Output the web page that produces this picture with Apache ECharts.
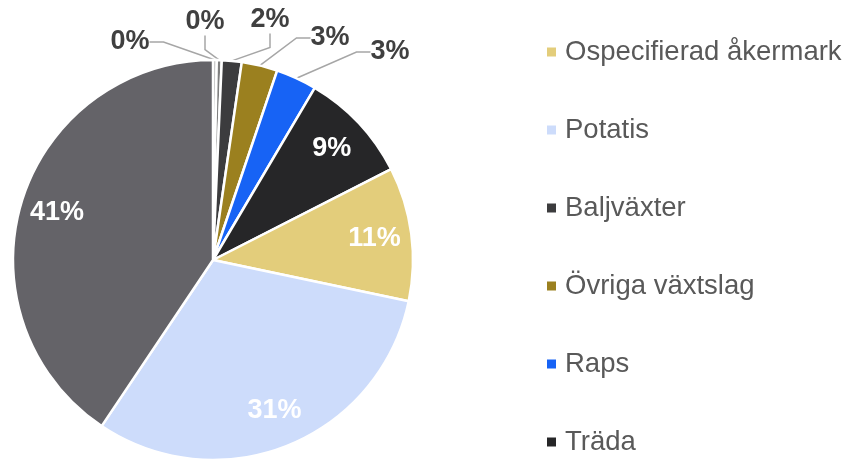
<!DOCTYPE html>
<html>
<head>
<meta charset="utf-8">
<script src="https://cdn.jsdelivr.net/npm/echarts@6/dist/echarts.min.js"></script>
<style>
  html, body { margin: 0; padding: 0; background: #fff; }
  #chart { width: 843px; height: 459px; }
</style>
</head>
<body>
<div id="chart"></div>
<script>
// andelar i procent, medurs från kl 12
var categories = ['Energigrödor', 'Sockerbetor', 'Baljväxter', 'Övriga växtslag', 'Raps', 'Träda', 'Ospecifierad åkermark', 'Potatis', 'Spannmål'];
var values = [0.3, 0.4, 1.6, 2.9, 3.3, 9.0, 10.8, 31.1, 40.6];
var colors = ['#a5a5a5', '#7f7f7f', '#3c3c3e', '#9b801f', '#1763f5', '#262628', '#e3cd7b', '#cddcfb', '#646368'];
var legendNames = ['Ospecifierad åkermark', 'Potatis', 'Baljväxter', 'Övriga växtslag', 'Raps', 'Träda'];

// var de små etiketterna ska stå (Excel-placering ovanför cirkeln)
var outsideLabelPos = [[130, 42], [205, 22], [270, 20], [330, 38], [390, 52]];

;(function(){
  var myChart = echarts.init(document.getElementById('chart'));

  var mainData = categories.map(function(name, i){
    var small = values[i] < 5;
    return {
      name: name,
      value: values[i],
      itemStyle: { color: colors[i] },
      label: { show: small },
      labelLine: { show: small }
    };
  });

  // osynlig ring som bara bär de inre etiketterna (ca 0.8r)
  var innerData = categories.map(function(name, i){
    return {
      name: name,
      value: values[i],
      label: { show: values[i] >= 5 }
    };
  });

  var option = {
    animation: false,
    legend: {
      orient: 'vertical',
      left: 540,
      top: 33,
      height: 600,
      itemWidth: 11,
      itemHeight: 11,
      itemGap: 50,
      icon: 'rect',
      data: legendNames,
      textStyle: {
        fontFamily: 'Liberation Sans, Arial, sans-serif',
        fontSize: 27.5,
        color: '#595959',
        padding: [0, 0, 0, 3]
      }
    },
    series: [
      {
        name: 'main',
        type: 'pie',
        center: [213, 260],
        radius: [0, 200],
        startAngle: 90,
        clockwise: true,
        silent: true,
        itemStyle: { borderColor: '#fff', borderWidth: 2.5 },
        label: {
          position: 'outside',
          formatter: function(p){ return Math.round(p.value) + '%'; },
          fontFamily: 'Liberation Sans, Arial, sans-serif',
          fontWeight: 'bold',
          fontSize: 27,
          color: '#404040'
        },
        labelLine: {
          length: 12,
          length2: 14,
          lineStyle: { color: '#a6a6a6', width: 1.5 }
        },
        labelLayout: function(params){
          var p = outsideLabelPos[params.dataIndex];
          if (!p) return;
          return { x: p[0], y: p[1], align: 'center', verticalAlign: 'middle' };
        },
        data: mainData
      },
      {
        name: 'labels',
        type: 'pie',
        center: [213, 260],
        radius: [120, 200],
        startAngle: 90,
        clockwise: true,
        silent: true,
        legendHoverLink: false,
        itemStyle: { color: 'rgba(0,0,0,0)' },
        label: {
          position: 'inside',
          formatter: function(p){ return Math.round(p.value) + '%'; },
          fontFamily: 'Liberation Sans, Arial, sans-serif',
          fontWeight: 'bold',
          fontSize: 27,
          color: '#fff'
        },
        labelLine: { show: false },
        data: innerData
      }
    ]
  };

  myChart.setOption(option);
})();
</script>
</body>
</html>
